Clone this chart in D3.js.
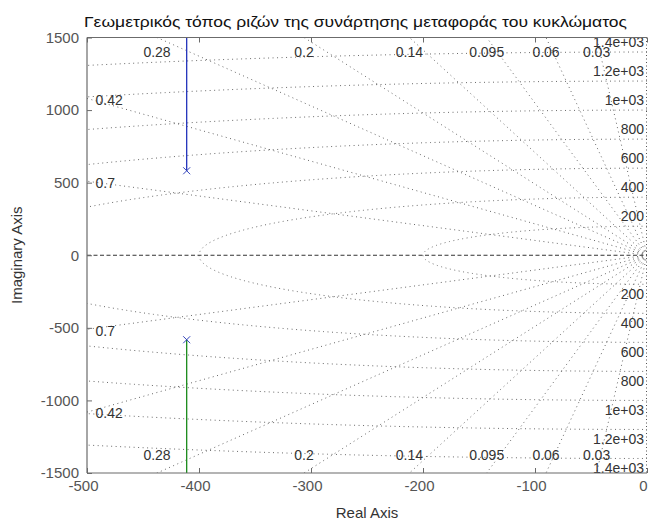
<!DOCTYPE html>
<html><head><meta charset="utf-8">
<script src="https://cdn.jsdelivr.net/npm/d3@7"></script>
<style>
body{margin:0;background:#fff}
svg{display:block}
text{font-family:"Liberation Sans", Arial, Helvetica, sans-serif}
</style>
</head><body>
<svg id="c" width="651" height="522"></svg>
<script>
// ---- data ----
const titleText = "Γεωμετρικός τόπος ριζών της συνάρτησης μεταφοράς του κυκλώματος";
const xLabelText = "Real Axis";
const yLabelText = "Imaginary Axis";
const xDomain = [-500, 0];
const yDomain = [-1500, 1500];
const xTicks = [-500, -400, -300, -200, -100, 0];
const yTicks = [-1500, -1000, -500, 0, 500, 1000, 1500];
const dampingRatios = [0.03, 0.06, 0.095, 0.14, 0.2, 0.28, 0.42, 0.7];
const dampingLabels = ["0.03", "0.06", "0.095", "0.14", "0.2", "0.28", "0.42", "0.7"];
const naturalFreqs = [200, 400, 600, 800, 1000, 1200, 1400];
const naturalFreqLabels = ["200", "400", "600", "800", "1e+03", "1.2e+03", "1.4e+03"];
const poleRe = [-411, -411];
const poleIm = [582, -582];
const branchRe = [[-411, -411], [-411, -411]];
const branchIm = [[582, 1700], [-582, -1700]];
const branchColors = ["#2233bb", "#1a8a1a"];

// ---- layout ----
const L = 87, R = 647, T = 37.5, B = 473;
const svg = d3.select("#c");
const x = d3.scaleLinear(xDomain, [L, R]);
const y = d3.scaleLinear(yDomain, [B, T]);
const fmt = v => String(v); // plain hyphen-minus like MATLAB

svg.append("defs").append("clipPath").attr("id", "clip")
  .append("rect").attr("x", L).attr("y", T).attr("width", R - L).attr("height", B - T);

const plot = svg.append("g").attr("clip-path", "url(#clip)");
const gridColor = "#6a6a6a";

// damping ratio rays
dampingRatios.forEach(z => {
  const s = Math.sqrt(1 - z * z);
  [1, -1].forEach(sg => {
    plot.append("line")
      .attr("x1", x(0)).attr("y1", y(0))
      .attr("x2", x(-20000 * z)).attr("y2", y(sg * 20000 * s))
      .attr("stroke", gridColor).attr("stroke-width", 1)
      .attr("stroke-dasharray", "1,3.5");
  });
});

// natural frequency semicircles
const arc = d3.line().x(d => x(d[0])).y(d => y(d[1]));
naturalFreqs.forEach(w => {
  const pts = d3.range(0, 721).map(i => {
    const a = Math.PI / 2 + Math.PI * i / 720;
    return [w * Math.cos(a), w * Math.sin(a)];
  });
  plot.append("path").attr("d", arc(pts)).attr("fill", "none")
    .attr("stroke", gridColor).attr("stroke-width", 1)
    .attr("stroke-dasharray", "1,3.5");
});

// dashed real / imaginary axes
plot.append("line").attr("x1", L).attr("x2", R).attr("y1", y(0)).attr("y2", y(0))
  .attr("stroke", "#333").attr("stroke-dasharray", "4,2.5");
plot.append("line").attr("x1", x(0) - 0.5).attr("x2", x(0) - 0.5).attr("y1", T).attr("y2", B)
  .attr("stroke", "#555").attr("stroke-dasharray", "1,2.5");

// damping labels
const lab = plot.append("g").attr("font-size", 14).attr("fill", "#333");
dampingRatios.forEach((z, i) => {
  const s = Math.sqrt(1 - z * z);
  const tanA = s / z;
  const xTop = -yDomain[1] / tanA;
  if (xTop >= xDomain[0]) {
    [y(yDomain[1]) + 14.5, y(yDomain[0]) - 17.5].forEach(py => {
      lab.append("text").attr("x", x(xTop)).attr("y", py).attr("dy", "0.35em")
        .attr("text-anchor", "middle").text(dampingLabels[i]);
    });
  } else {
    const yl = -xDomain[0] * tanA;
    [yl, -yl].forEach(v => {
      lab.append("text").attr("x", L + 8.5).attr("y", y(v) + 1.5).attr("dy", "0.35em")
        .attr("text-anchor", "start").text(dampingLabels[i]);
    });
  }
});

// natural frequency labels
naturalFreqs.forEach((w, i) => {
  [1, -1].forEach(sg => {
    lab.append("text").attr("x", R - 3).attr("y", y(sg * w) - sg * 10).attr("dy", "0.35em")
      .attr("text-anchor", "end").text(naturalFreqLabels[i]);
  });
});

// root locus branches
branchRe.forEach((re, b) => {
  const pts = re.map((v, k) => [v, branchIm[b][k]]);
  plot.append("path").attr("d", arc(pts)).attr("fill", "none")
    .attr("stroke", branchColors[b]).attr("stroke-width", 1.3);
});

// poles
poleRe.forEach((re, k) => {
  const cx = x(re), cy = y(poleIm[k]), r = 3.5;
  plot.append("path")
    .attr("d", `M${cx - r},${cy - r}L${cx + r},${cy + r}M${cx - r},${cy + r}L${cx + r},${cy - r}`)
    .attr("stroke", "#3344bb").attr("stroke-width", 1);
});

// ---- axes ----
const axColor = "#6b6b6b";
const gx = svg.append("g").attr("transform", `translate(0,${B})`)
  .call(d3.axisBottom(x).tickValues(xTicks).tickSize(-5).tickPadding(7).tickFormat(fmt));
gx.selectAll("text").attr("dx", -4);
const gxt = svg.append("g").attr("transform", `translate(0,${T})`)
  .call(d3.axisTop(x).tickValues(xTicks).tickSize(-5).tickFormat(""));
const gy = svg.append("g").attr("transform", `translate(${L},0)`)
  .call(d3.axisLeft(y).tickValues(yTicks).tickSize(-5).tickPadding(8).tickFormat(fmt));
[gx, gxt, gy].forEach(g => {
  g.select(".domain").attr("stroke", axColor).attr("stroke-width", 1.2);
  g.selectAll(".tick line").attr("stroke", axColor);
  g.selectAll("text").attr("font-size", 15).attr("fill", "#555")
    .attr("font-family", "\"Liberation Sans\", Arial, sans-serif");
});
gx.select(".domain").attr("d", `M${L},0H${R}`);
gxt.select(".domain").attr("d", `M${L},0H${R}`);
gy.select(".domain").attr("d", `M0,${T}V${B}`);

// ---- titles ----
svg.append("text").attr("x", 84).attr("y", 27).attr("font-size", 15).attr("fill", "#111")
  .attr("textLength", 543).attr("lengthAdjust", "spacingAndGlyphs").text(titleText);
svg.append("text").attr("x", (L + R) / 2).attr("y", 518).attr("text-anchor", "middle")
  .attr("font-size", 15).attr("fill", "#333").text(xLabelText);
svg.append("text").attr("transform", `translate(22,${(T + B) / 2}) rotate(-90)`)
  .attr("text-anchor", "middle").attr("font-size", 15).attr("fill", "#333").text(yLabelText);
</script>
</body></html>
